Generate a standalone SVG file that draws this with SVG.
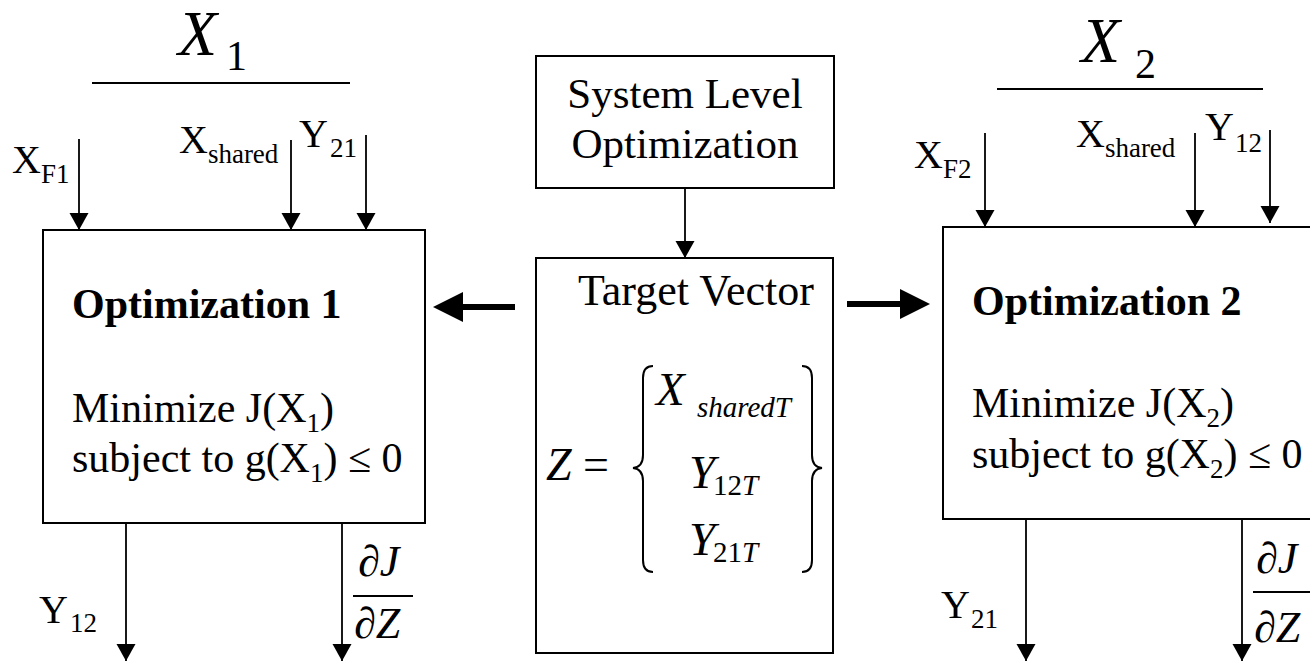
<svg xmlns="http://www.w3.org/2000/svg" width="1310" height="662" viewBox="0 0 1310 662">
<style>
text{font-family:"Liberation Serif","Times New Roman",serif;fill:#000}
.box{fill:#fff;stroke:#000;stroke-width:2}
.body{font-size:42px}
.bold{font-size:42px;font-weight:bold}
.lab{font-size:40px}
.sub{font-size:27px}
.conn{stroke:#000;stroke-width:1.8;fill:none}
.rule{stroke:#000;stroke-width:2.2}
</style>
<defs>
<marker id="ah" markerUnits="userSpaceOnUse" markerWidth="18" markerHeight="20" viewBox="0 0 18 20" refX="17" refY="10" orient="auto">
<path d="M0,0.5 L17,10 L0,19.5 z" fill="#000"/>
</marker>
</defs>

<g id="sys">
<rect class="box" x="536" y="56" width="298" height="132"/>
<text x="685" y="108" text-anchor="middle" font-size="43">System Level</text>
<text x="685" y="158" text-anchor="middle" font-size="43">Optimization</text>
</g>

<g id="target">
<rect class="box" x="536" y="258" width="297" height="395"/>
<text x="578" y="305" font-size="44">Target Vector</text>
<text x="546" y="480" font-size="46"><tspan font-style="italic">Z</tspan> =</text>
<path d="M653,366 Q643,366 643,378 L643,455 Q643,467 633,468 Q643,469 643,481 L643,560 Q643,572 653,572" fill="none" stroke="#000" stroke-width="2"/>
<path d="M802,366 Q812,366 812,378 L812,455 Q812,467 822,468 Q812,469 812,481 L812,560 Q812,572 802,572" fill="none" stroke="#000" stroke-width="2"/>
<text x="656" y="405" font-size="47" font-style="italic">X<tspan x="697" y="417" font-size="29">sharedT</tspan></text>
<text x="689" y="488" font-size="47" font-style="italic">Y<tspan x="713" y="495" font-size="29" font-style="normal">12</tspan><tspan font-size="29">T</tspan></text>
<text x="689" y="555" font-size="47" font-style="italic">Y<tspan x="713" y="562" font-size="29" font-style="normal">21</tspan><tspan font-size="29">T</tspan></text>
</g>

<g id="opt1">
<rect class="box" x="43" y="230" width="382" height="293"/>
<text class="bold" x="72" y="318">Optimization 1</text>
<text class="body" x="72" y="422">Minimize J(X<tspan class="sub" dy="10">1</tspan><tspan dy="-10">)</tspan></text>
<text class="body" x="72" y="472">subject to g(X<tspan class="sub" dy="10">1</tspan><tspan dy="-10">) ≤ 0</tspan></text>
</g>

<g id="opt2">
<rect class="box" x="943" y="227" width="400" height="292"/>
<text class="bold" x="972" y="315">Optimization 2</text>
<text class="body" x="972" y="417">Minimize J(X<tspan class="sub" dy="10">2</tspan><tspan dy="-10">)</tspan></text>
<text class="body" x="972" y="468">subject to g(X<tspan class="sub" dy="10">2</tspan><tspan dy="-10">) ≤ 0</tspan></text>
</g>

<g id="x1-label">
<text x="178" y="55" font-size="64" font-style="italic">X</text>
<text x="226" y="70" font-size="42">1</text>
<line class="rule" x1="92" y1="83" x2="350" y2="83"/>
</g>

<g id="x2-label">
<text x="1081" y="62" font-size="64" font-style="italic">X</text>
<text x="1135" y="78" font-size="42">2</text>
<line class="rule" x1="997" y1="89" x2="1263" y2="89"/>
</g>

<g id="labels">
<text class="lab" x="12" y="173">X<tspan class="sub" y="183">F1</tspan></text>
<text class="lab" x="179" y="153">X<tspan class="sub" y="163">shared</tspan></text>
<text class="lab" x="299" y="147">Y<tspan class="sub" x="330" y="157">21</tspan></text>
<text class="lab" x="914" y="168">X<tspan class="sub" y="178">F2</tspan></text>
<text class="lab" x="1076" y="147">X<tspan class="sub" y="157">shared</tspan></text>
<text class="lab" x="1205" y="140">Y<tspan class="sub" x="1235" y="152">12</tspan></text>
<text class="lab" x="39" y="623">Y<tspan class="sub" x="70" y="632">12</tspan></text>
<text class="lab" x="941" y="618">Y<tspan class="sub" x="971" y="628">21</tspan></text>
<text x="358" y="576" font-size="44">∂<tspan font-style="italic">J</tspan></text>
<line stroke="#000" stroke-width="2" x1="353" y1="596" x2="413" y2="596"/>
<text x="354" y="638" font-size="44">∂<tspan font-style="italic">Z</tspan></text>
<text x="1256" y="573" font-size="44">∂<tspan font-style="italic">J</tspan></text>
<line stroke="#000" stroke-width="2" x1="1253" y1="592" x2="1320" y2="592"/>
<text x="1254" y="642" font-size="44">∂<tspan font-style="italic">Z</tspan></text>
</g>

<g id="connectors">
<line class="conn" x1="685" y1="188" x2="685" y2="258" marker-end="url(#ah)"/>
<line class="conn" x1="79" y1="139" x2="79" y2="230" marker-end="url(#ah)"/>
<line class="conn" x1="291" y1="140" x2="291" y2="230" marker-end="url(#ah)"/>
<line class="conn" x1="366" y1="135" x2="366" y2="230" marker-end="url(#ah)"/>
<line class="conn" x1="985" y1="133" x2="985" y2="227" marker-end="url(#ah)"/>
<line class="conn" x1="1195" y1="133" x2="1195" y2="227" marker-end="url(#ah)"/>
<line class="conn" x1="1270" y1="130" x2="1270" y2="223" marker-end="url(#ah)"/>
<line class="conn" x1="126" y1="523" x2="126" y2="661" marker-end="url(#ah)"/>
<line class="conn" x1="342" y1="523" x2="342" y2="661" marker-end="url(#ah)"/>
<line class="conn" x1="1026" y1="519" x2="1026" y2="661" marker-end="url(#ah)"/>
<line class="conn" x1="1242" y1="519" x2="1242" y2="661" marker-end="url(#ah)"/>
<line stroke="#000" stroke-width="6" x1="515" y1="307" x2="460" y2="307"/>
<polygon points="433,307 463,292 463,322" fill="#000"/>
<line stroke="#000" stroke-width="6" x1="847" y1="304" x2="903" y2="304"/>
<polygon points="930,304 900,289 900,319" fill="#000"/>
</g>
</svg>
